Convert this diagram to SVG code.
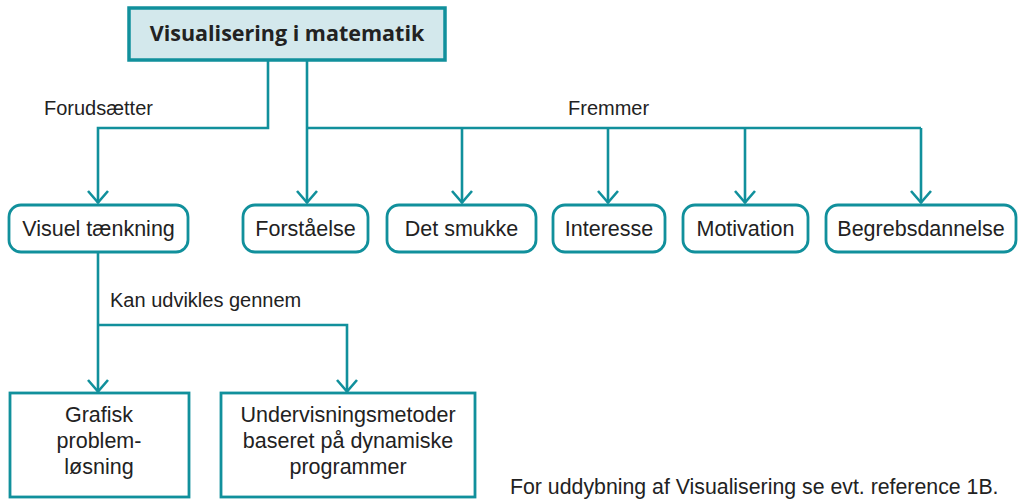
<svg xmlns="http://www.w3.org/2000/svg" width="1019" height="500" viewBox="0 0 1019 500">
<defs>
<style>
.t{font-family:"Liberation Sans",Arial,sans-serif;font-size:21.5px;fill:#222;text-anchor:middle}
.l{font-family:"Liberation Sans",Arial,sans-serif;font-size:20px;fill:#222}
.n{fill:#fff;stroke:#11909c;stroke-width:2.8}
.c{fill:none;stroke:#11909c;stroke-width:2.6}
</style>
<marker id="ah" viewBox="0 0 14 22" refX="13" refY="11" markerWidth="14" markerHeight="22" markerUnits="userSpaceOnUse" orient="auto">
<path d="M1,1 L12.5,11 L1,21" fill="none" stroke="#11909c" stroke-width="2.6"/>
</marker>
</defs>
<rect width="1019" height="500" fill="#fff"/>
<g id="connectors">
<path class="c" d="M268,60 V128 H98 V203" marker-end="url(#ah)"/>
<path class="c" d="M307,60 V203" marker-end="url(#ah)"/>
<path class="c" d="M307,128 H921"/>
<path class="c" d="M462,128 V203" marker-end="url(#ah)"/>
<path class="c" d="M608,128 V203" marker-end="url(#ah)"/>
<path class="c" d="M745,128 V203" marker-end="url(#ah)"/>
<path class="c" d="M921,128 V203" marker-end="url(#ah)"/>
<path class="c" d="M98,252 V392" marker-end="url(#ah)"/>
<path class="c" d="M98,325 H347 V392" marker-end="url(#ah)"/>
</g>
<g id="labels">
<text class="l" x="44" y="115">Forudsætter</text>
<text class="l" x="568" y="115">Fremmer</text>
<text class="l" x="110" y="307">Kan udvikles gennem</text>
<text class="l" x="510" y="494" style="font-size:21.3px">For uddybning af Visualisering se evt. reference 1B.</text>
</g>
<g id="title">
<rect x="129" y="8" width="316" height="52" fill="#d3e8ec" stroke="#11909c" stroke-width="3.5"/>
<text x="287" y="41" style="font-family:'Open Sans','Liberation Sans',sans-serif;font-size:21.5px;font-weight:bold;fill:#222;text-anchor:middle">Visualisering i matematik</text>
</g>
<g id="visuel"><rect class="n" x="9" y="205" width="179" height="47" rx="12"/><text class="t" x="98.5" y="236">Visuel tænkning</text></g>
<g id="forstaaelse"><rect class="n" x="243" y="205" width="125" height="47" rx="12"/><text class="t" x="305.5" y="236">Forståelse</text></g>
<g id="smukke"><rect class="n" x="387" y="205" width="149" height="47" rx="12"/><text class="t" x="461.5" y="236">Det smukke</text></g>
<g id="interesse"><rect class="n" x="553" y="205" width="112" height="47" rx="12"/><text class="t" x="609" y="236">Interesse</text></g>
<g id="motivation"><rect class="n" x="683" y="205" width="125" height="47" rx="12"/><text class="t" x="745.5" y="236">Motivation</text></g>
<g id="begreb"><rect class="n" x="826" y="205" width="190" height="47" rx="12"/><text class="t" x="921" y="236">Begrebsdannelse</text></g>
<g id="grafisk"><rect class="n" x="10" y="393" width="179" height="104"/><text class="t" x="99" y="422">Grafisk</text><text class="t" x="99" y="448">problem-</text><text class="t" x="99" y="474">løsning</text></g>
<g id="undervisning"><rect class="n" x="221" y="393" width="254" height="104"/><text class="t" x="348" y="422">Undervisningsmetoder</text><text class="t" x="348" y="448">baseret på dynamiske</text><text class="t" x="348" y="474">programmer</text></g>
</svg>
